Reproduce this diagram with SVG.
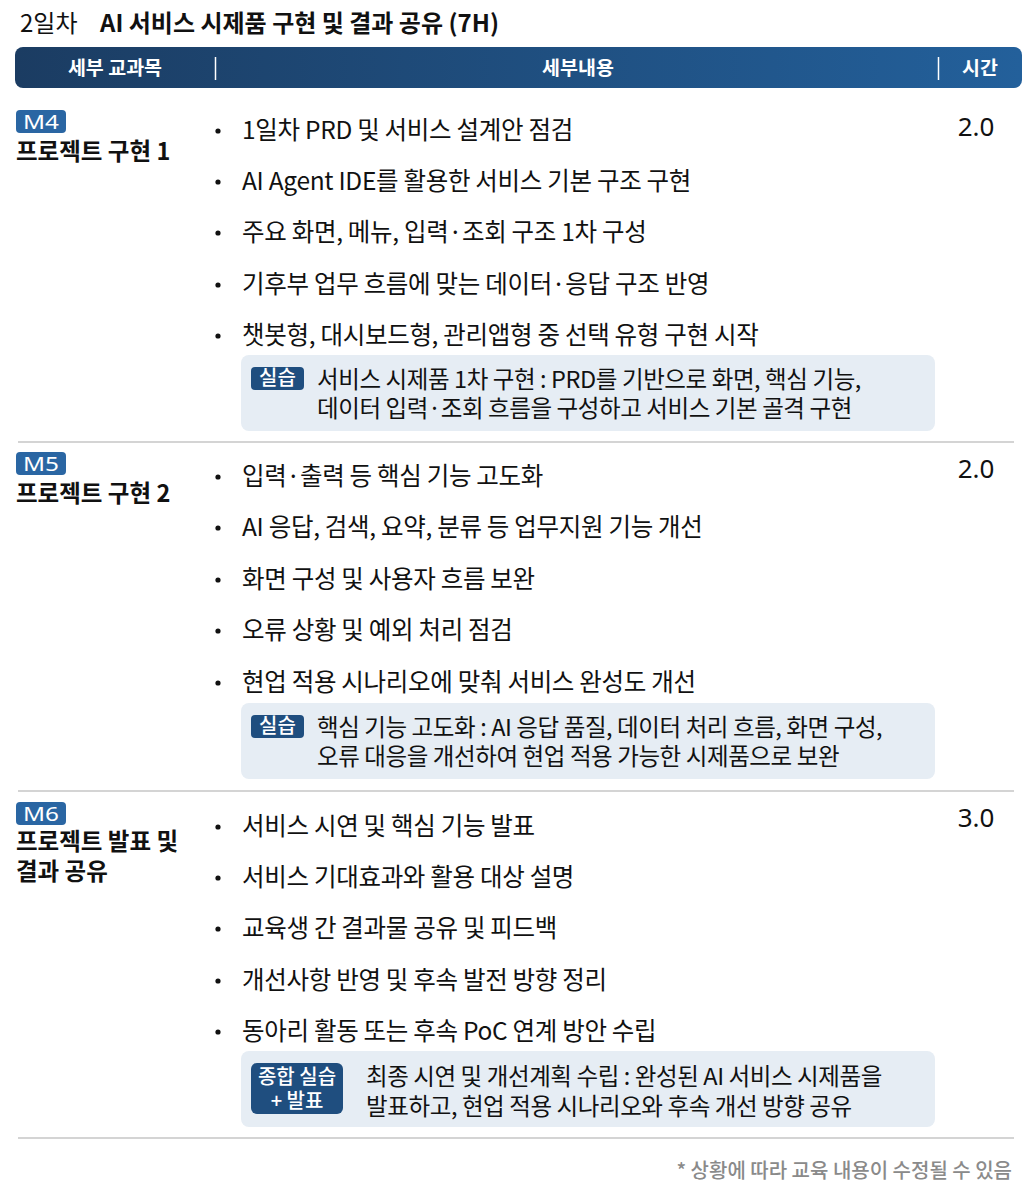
<svg xmlns="http://www.w3.org/2000/svg" width="1027" height="1191" viewBox="0 0 1027 1191">
<defs>
<linearGradient id="hdr" x1="0" y1="0" x2="1" y2="0">
<stop offset="0" stop-color="#1b3c62"/>
<stop offset="1" stop-color="#23609b"/>
</linearGradient>
</defs>
<style>
text{font-family:"Noto Sans CJK KR","Noto Sans",sans-serif;}
.title{font-size:24px;fill:#111;}
.hd{font-size:19.5px;font-weight:700;fill:#fff;text-anchor:middle;}
.mod{font-size:23.5px;font-weight:700;fill:#111;}
.badge{fill:#2a66a3;}
.bt{font-family:"Noto Sans","Noto Sans CJK KR",sans-serif;font-size:19px;fill:#fff;}
.li{font-size:24.5px;fill:#111;letter-spacing:-0.3px;}
.dot{fill:#111;}
.tm{font-family:"Noto Sans","Noto Sans CJK KR",sans-serif;font-size:26px;fill:#111;text-anchor:middle;}
.box{fill:#e6edf4;}
.pb{fill:#1f4e7f;}
.pbt{font-size:20px;font-weight:500;fill:#fff;text-anchor:middle;}
.pt{font-size:23.5px;fill:#111;letter-spacing:-0.4px;}
.sep{stroke:#c6c6c6;stroke-width:1.5;}
.foot{font-size:20px;font-weight:500;fill:#8a8a8a;text-anchor:end;}
</style>

<g id="title">
<text class="title" x="20" y="32">2일차</text>
<text class="title" x="100" y="32" font-weight="700">AI 서비스 시제품 구현 및 결과 공유 (7H)</text>
</g>

<g id="header">
<rect x="15" y="47" width="1007" height="41" rx="8" fill="url(#hdr)"/>
<text class="hd" x="115" y="75">세부 교과목</text>
<line x1="215.5" y1="57" x2="215.5" y2="80" stroke="#fff" stroke-width="1.5"/>
<text class="hd" x="578" y="75">세부내용</text>
<line x1="938.5" y1="57" x2="938.5" y2="80" stroke="#fff" stroke-width="1.5"/>
<text class="hd" x="980" y="75">시간</text>
</g>

<g id="m4">
<rect class="badge" x="16" y="110" width="50" height="23" rx="4"/>
<text class="bt" x="23" y="129" textLength="36" lengthAdjust="spacingAndGlyphs">M4</text>
<text class="mod" x="16" y="160">프로젝트 구현 1</text>
<circle class="dot" cx="218" cy="131" r="2.6"/>
<text class="li" x="242" y="139">1일차 PRD 및 서비스 설계안 점검</text>
<circle class="dot" cx="218" cy="182" r="2.6"/>
<text class="li" x="242" y="190">AI Agent IDE를 활용한 서비스 기본 구조 구현</text>
<circle class="dot" cx="218" cy="233" r="2.6"/>
<text class="li" x="242" y="241">주요 화면, 메뉴, 입력·조회 구조 1차 구성</text>
<circle class="dot" cx="218" cy="285" r="2.6"/>
<text class="li" x="242" y="293">기후부 업무 흐름에 맞는 데이터·응답 구조 반영</text>
<circle class="dot" cx="218" cy="336" r="2.6"/>
<text class="li" x="242" y="344">챗봇형, 대시보드형, 관리앱형 중 선택 유형 구현 시작</text>
<rect class="box" x="241" y="355" width="694" height="76" rx="8"/>
<rect class="pb" x="251" y="367" width="53" height="23" rx="4"/>
<text class="pbt" x="277.5" y="385">실습</text>
<text class="pt" x="317" y="388">서비스 시제품 1차 구현 : PRD를 기반으로 화면, 핵심 기능,</text>
<text class="pt" x="317" y="417">데이터 입력·조회 흐름을 구성하고 서비스 기본 골격 구현</text>
<text class="tm" x="976" y="136">2.0</text>
</g>

<g id="m5">
<rect class="badge" x="16" y="452" width="50" height="23" rx="4"/>
<text class="bt" x="23" y="471" textLength="36" lengthAdjust="spacingAndGlyphs">M5</text>
<text class="mod" x="16" y="502">프로젝트 구현 2</text>
<circle class="dot" cx="218" cy="477" r="2.6"/>
<text class="li" x="242" y="485">입력·출력 등 핵심 기능 고도화</text>
<circle class="dot" cx="218" cy="528" r="2.6"/>
<text class="li" x="242" y="536">AI 응답, 검색, 요약, 분류 등 업무지원 기능 개선</text>
<circle class="dot" cx="218" cy="580" r="2.6"/>
<text class="li" x="242" y="588">화면 구성 및 사용자 흐름 보완</text>
<circle class="dot" cx="218" cy="631" r="2.6"/>
<text class="li" x="242" y="639">오류 상황 및 예외 처리 점검</text>
<circle class="dot" cx="218" cy="683" r="2.6"/>
<text class="li" x="242" y="691">현업 적용 시나리오에 맞춰 서비스 완성도 개선</text>
<rect class="box" x="241" y="703" width="694" height="76" rx="8"/>
<rect class="pb" x="251" y="715" width="53" height="23" rx="4"/>
<text class="pbt" x="277.5" y="733">실습</text>
<text class="pt" x="317" y="736">핵심 기능 고도화 : AI 응답 품질, 데이터 처리 흐름, 화면 구성,</text>
<text class="pt" x="317" y="765">오류 대응을 개선하여 현업 적용 가능한 시제품으로 보완</text>
<text class="tm" x="976" y="478">2.0</text>
</g>

<g id="m6">
<rect class="badge" x="16" y="802" width="50" height="23" rx="4"/>
<text class="bt" x="23" y="821" textLength="36" lengthAdjust="spacingAndGlyphs">M6</text>
<text class="mod" x="16" y="850">프로젝트 발표 및</text>
<text class="mod" x="16" y="880">결과 공유</text>
<circle class="dot" cx="218" cy="827" r="2.6"/>
<text class="li" x="242" y="835">서비스 시연 및 핵심 기능 발표</text>
<circle class="dot" cx="218" cy="878" r="2.6"/>
<text class="li" x="242" y="886">서비스 기대효과와 활용 대상 설명</text>
<circle class="dot" cx="218" cy="929" r="2.6"/>
<text class="li" x="242" y="937">교육생 간 결과물 공유 및 피드백</text>
<circle class="dot" cx="218" cy="981" r="2.6"/>
<text class="li" x="242" y="989">개선사항 반영 및 후속 발전 방향 정리</text>
<circle class="dot" cx="218" cy="1032" r="2.6"/>
<text class="li" x="242" y="1040">동아리 활동 또는 후속 PoC 연계 방안 수립</text>
<rect class="box" x="241" y="1051" width="694" height="76" rx="8"/>
<rect class="pb" x="251" y="1063" width="92" height="51" rx="6"/>
<text class="pbt" x="297" y="1084">종합 실습</text>
<text class="pbt" x="297" y="1108">+ 발표</text>
<text class="pt" x="366" y="1085">최종 시연 및 개선계획 수립 : 완성된 AI 서비스 시제품을</text>
<text class="pt" x="366" y="1115">발표하고, 현업 적용 시나리오와 후속 개선 방향 공유</text>
<text class="tm" x="976" y="827">3.0</text>
</g>

<g id="separators">
<line class="sep" x1="18" y1="442" x2="1014" y2="442"/>
<line class="sep" x1="18" y1="791" x2="1014" y2="791"/>
<line class="sep" x1="18" y1="1138" x2="1014" y2="1138"/>
</g>

<g id="footer">
<text class="foot" x="1012" y="1178">* 상황에 따라 교육 내용이 수정될 수 있음</text>
</g>
</svg>
